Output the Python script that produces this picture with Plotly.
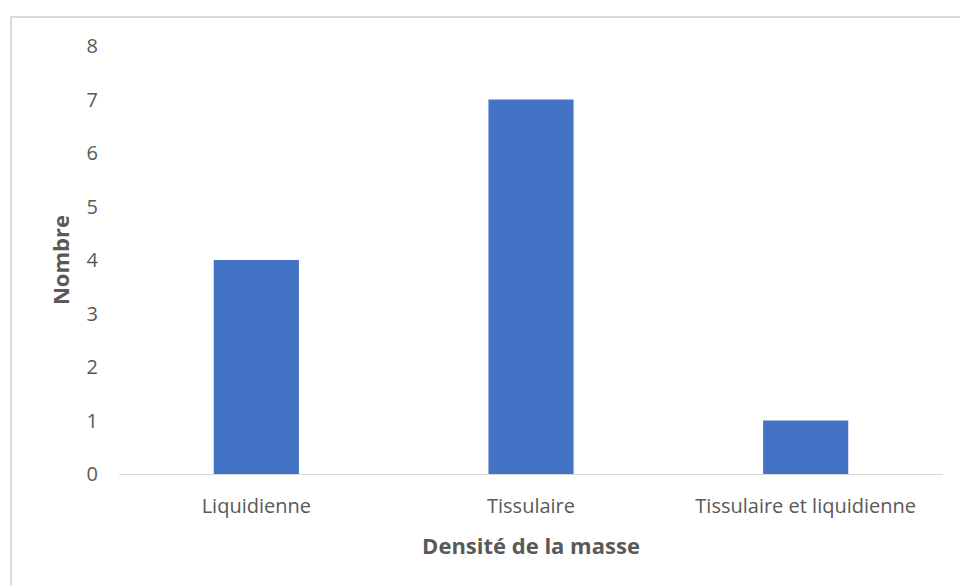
import plotly.graph_objects as go

categories = ["Liquidienne", "Tissulaire", "Tissulaire et liquidienne"]
counts = [4, 7, 1]
y_ticks = [0, 1, 2, 3, 4, 5, 6, 7, 8]

W, H = 960, 585
L, R, T, B = 119, 17, 46, 111
pw = W - L - R
ph = H - T - B

font_family = "Open Sans, Noto Sans, sans-serif"
tick_color = "#595959"

fig = go.Figure(
    go.Bar(
        x=categories,
        y=counts,
        marker=dict(color="#4472C4", line=dict(width=0)),
        width=0.31,
        hoverinfo="x+y",
    )
)

fig.update_layout(
    width=W,
    height=H,
    margin=dict(l=L, r=R, t=T, b=B),
    paper_bgcolor="white",
    plot_bgcolor="white",
    showlegend=False,
    font=dict(family=font_family, color=tick_color),
    xaxis=dict(
        range=[-0.5, 2.5],
        showline=True,
        linecolor="#D9D9D9",
        linewidth=1,
        showgrid=False,
        zeroline=False,
        ticks="",
        ticklabelstandoff=14,
        tickfont=dict(size=20, color=tick_color),
        title=dict(
            text="Densité de la masse",
            font=dict(size=22, color=tick_color, weight="bold"),
            standoff=20,
        ),
    ),
    yaxis=dict(
        range=[0, 8],
        tickvals=y_ticks,
        showline=False,
        showgrid=False,
        zeroline=False,
        ticks="",
        ticklabelstandoff=20,
        tickfont=dict(size=20, color=tick_color),
        title=dict(
            text="Nombre",
            font=dict(size=22, color=tick_color, weight="bold"),
            standoff=10,
        ),
    ),
    shapes=[
        dict(
            type="rect",
            xref="paper",
            yref="paper",
            x0=(11 - L) / pw,
            x1=(W + 5 - L) / pw,
            y0=(H - (H + 5) - B) / ph,
            y1=(H - 17 - B) / ph,
            line=dict(color="#D9D9D9", width=2),
            fillcolor="rgba(0,0,0,0)",
            layer="below",
        )
    ],
)

fig.write_html("out.html")
